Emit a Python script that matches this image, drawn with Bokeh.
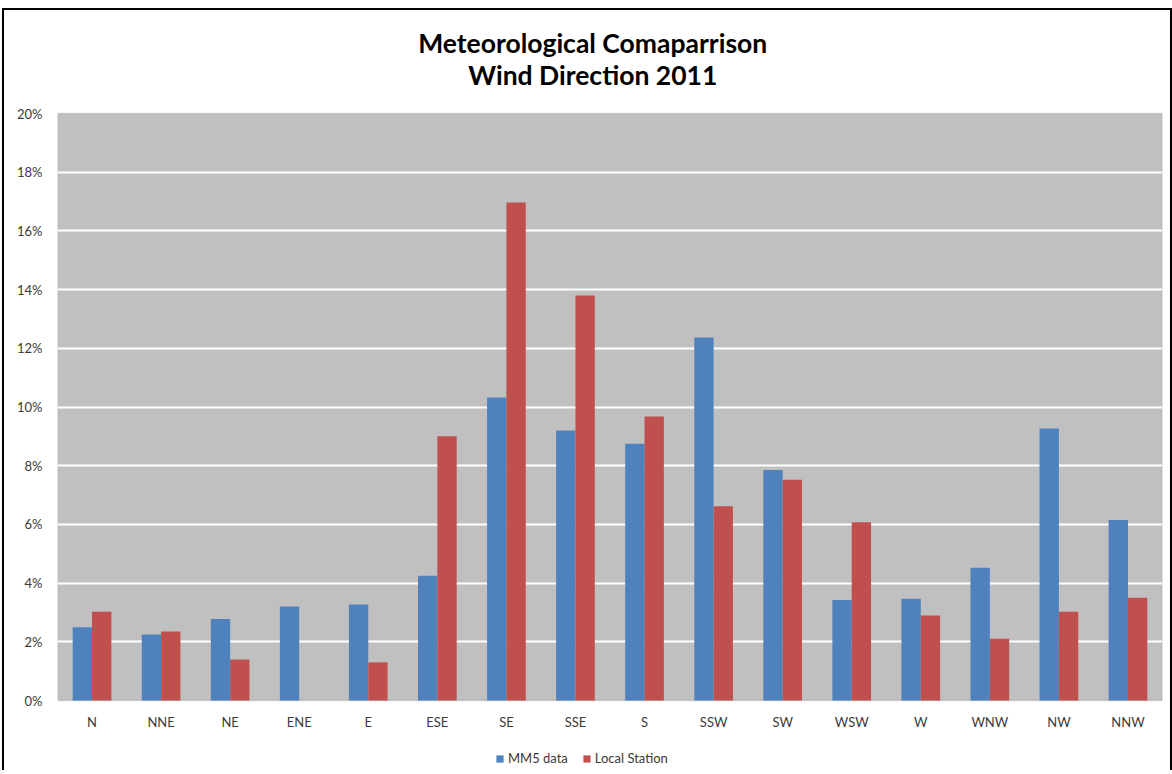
from bokeh.plotting import figure
from bokeh.models import (ColumnDataSource, FactorRange, Range1d, Legend, LegendItem,
                          Label, NumeralTickFormatter, FixedTicker, BoxAnnotation)
from bokeh.transform import dodge
from bokeh.embed import file_html
from bokeh.resources import INLINE

directions = ["N", "NNE", "NE", "ENE", "E", "ESE", "SE", "SSE", "S", "SSW",
              "SW", "WSW", "W", "WNW", "NW", "NNW"]
mm5_data = [0.0250, 0.0225, 0.0278, 0.0320, 0.0327, 0.0425, 0.1032, 0.0920,
            0.0875, 0.1237, 0.0785, 0.0342, 0.0347, 0.0452, 0.0927, 0.0615]
local_station = [0.0302, 0.0235, 0.0140, 0.0, 0.0130, 0.0900, 0.1697, 0.1380,
                 0.0968, 0.0662, 0.0752, 0.0607, 0.0290, 0.0210, 0.0302, 0.0350]
y_ticks = [0.0, 0.02, 0.04, 0.06, 0.08, 0.10, 0.12, 0.14, 0.16, 0.18, 0.20]
y_max = 0.20
title_lines = ["Meteorological Comaparrison", "Wind Direction 2011"]
series_names = ["MM5 data", "Local Station"]

FONT = "Lato"
BLUE = "#4F81BD"
RED = "#C0504D"

src = ColumnDataSource(data=dict(dir=directions, mm5=mm5_data, local=local_station))

# the frame holds title, plot area, category labels and legend;
# the grey plot area spans 0..20% (587 px tall)
PX_PER_UNIT = 587 / y_max
y_top = y_max + 103 / PX_PER_UNIT
y_bottom = -70 / PX_PER_UNIT
FRAME_H = 760

p = figure(x_range=FactorRange(factors=directions, range_padding=0),
           y_range=Range1d(y_bottom, y_top),
           frame_width=1105, frame_height=FRAME_H,
           min_border_left=53, min_border_top=0, min_border_right=8, min_border_bottom=0,
           output_backend="svg", toolbar_location=None)

p.background_fill_color = "white"
p.border_fill_color = "white"
p.outline_line_color = None

p.add_layout(BoxAnnotation(bottom=0, top=y_max, fill_color="#C0C0C0", fill_alpha=1,
                           line_color="#8A8A8A", line_width=1.5, level="image"))

r1 = p.vbar(x=dodge("dir", -0.14, range=p.x_range), top="mm5", width=0.28,
            source=src, fill_color=BLUE, line_color=None)
r2 = p.vbar(x=dodge("dir", 0.14, range=p.x_range), top="local", width=0.28,
            source=src, fill_color=RED, line_color=None)

p.xgrid.grid_line_color = None
p.ygrid.grid_line_color = "white"
p.ygrid.grid_line_width = 2
p.ygrid.ticker = FixedTicker(ticks=y_ticks[1:-1])

p.yaxis.ticker = FixedTicker(ticks=y_ticks)
p.yaxis.formatter = NumeralTickFormatter(format="0%")
p.xaxis.fixed_location = 0
for ax in (p.xaxis[0], p.yaxis[0]):
    ax.axis_line_color = None
    ax.major_tick_line_color = None
    ax.minor_tick_line_color = None
    ax.major_tick_out = 0
    ax.major_tick_in = 0
    ax.minor_tick_out = 0
    ax.minor_tick_in = 0
    ax.axis_label_standoff = 0
    ax.major_label_text_font = FONT
    ax.major_label_text_font_size = "13px"
    ax.major_label_text_color = "#3a3a3a"
p.yaxis.major_label_standoff = 15
p.xaxis.major_label_standoff = 13

cx = len(directions) / 2 - 0.25
p.add_layout(Label(x=cx, y=0.2240, text=title_lines[0], text_align="center",
                   text_baseline="middle", text_font=FONT, text_font_size="26.5px",
                   text_font_style="bold", text_color="black"))
p.add_layout(Label(x=cx, y=0.2130, text=title_lines[1], text_align="center",
                   text_baseline="middle", text_font=FONT, text_font_size="26.5px",
                   text_font_style="bold", text_color="black"))

legend = Legend(items=[LegendItem(label=series_names[0], renderers=[r1]),
                       LegendItem(label=series_names[1], renderers=[r2])],
                orientation="horizontal", location=(438, 4))
legend.label_text_font = FONT
legend.label_text_font_size = "13px"
legend.label_text_color = "#3a3a3a"
legend.glyph_width = 9
legend.glyph_height = 9
legend.spacing = 14
legend.label_standoff = 4
legend.border_line_color = None
legend.background_fill_alpha = 0
legend.padding = 3
legend.margin = 0
p.add_layout(legend)

p.styles = {"border": "2px solid black", "border-bottom": "none",
            "margin-top": "8px", "margin-left": "2px"}

open("out.html", "w").write(file_html(p, INLINE))
